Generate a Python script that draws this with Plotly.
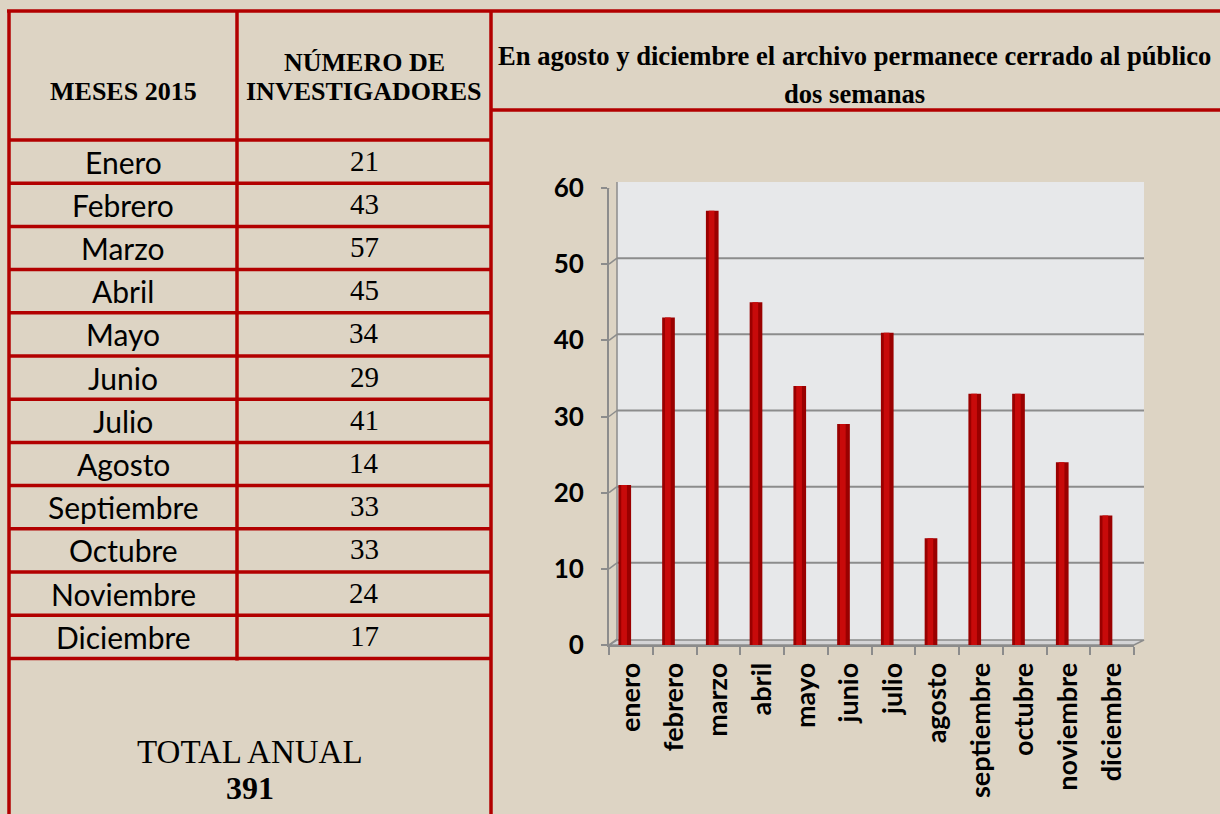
import plotly.graph_objects as go

# ---------------- data ----------------
meses_tabla = ["Enero", "Febrero", "Marzo", "Abril", "Mayo", "Junio", "Julio",
               "Agosto", "Septiembre", "Octubre", "Noviembre", "Diciembre"]
meses_eje = ["enero", "febrero", "marzo", "abril", "mayo", "junio", "julio",
             "agosto", "septiembre", "octubre", "noviembre", "diciembre"]
investigadores = [21, 43, 57, 45, 34, 29, 41, 14, 33, 33, 24, 17]
y_ticks = [0, 10, 20, 30, 40, 50, 60]
titulo_l1 = "En agosto y diciembre el archivo permanece cerrado al público"
titulo_l2 = "dos semanas"
cab_col1 = "MESES 2015"
cab_col2_l1 = "NÚMERO DE"
cab_col2_l2 = "INVESTIGADORES"
total_label = "TOTAL ANUAL"
total_valor = sum(investigadores)

# ---------------- style ----------------
W, H = 1220, 814
BG = "#ddd4c4"
RED = "#b20000"
GRAY = "#8c8c8c"
SERIF = "Liberation Serif"
SANS = "Lato"


def X(px):
    return px / W


def Y(py):
    return 1 - py / H


fig = go.Figure()

# bars: a darker outer cylinder + lighter core for a rounded look
fig.add_trace(go.Bar(x=meses_eje, y=investigadores, width=0.29, offset=-0.285,
                     marker=dict(color="#9a0000", line=dict(width=0)),
                     hoverinfo="x+y", showlegend=False))
fig.add_trace(go.Bar(x=meses_eje, y=investigadores, width=0.13, offset=-0.22,
                     marker=dict(color="#c80a0a", line=dict(width=0)),
                     hoverinfo="skip", showlegend=False))

shapes = []
# ---------- table borders ----------
lw = 3.5
row_top = 140
row_h = 43.2
shapes.append(dict(type="line", xref="paper", yref="paper", x0=X(9), x1=X(9), y0=Y(11), y1=Y(820), line=dict(color=RED, width=lw)))
table_bottom = row_top + row_h * len(meses_tabla)
shapes.append(dict(type="line", xref="paper", yref="paper", x0=X(237), x1=X(237), y0=Y(11), y1=Y(table_bottom + 2), line=dict(color=RED, width=lw)))
shapes.append(dict(type="line", xref="paper", yref="paper", x0=X(491), x1=X(491), y0=Y(11), y1=Y(820), line=dict(color=RED, width=lw)))
shapes.append(dict(type="line", xref="paper", yref="paper", x0=X(7), x1=X(1225), y0=Y(11), y1=Y(11), line=dict(color=RED, width=lw)))
shapes.append(dict(type="line", xref="paper", yref="paper", x0=X(491), x1=X(1225), y0=Y(110), y1=Y(110), line=dict(color=RED, width=lw)))
for k in range(len(meses_tabla) + 1):
    yy = row_top + row_h * k
    shapes.append(dict(type="line", xref="paper", yref="paper", x0=X(9), x1=X(491), y0=Y(yy), y1=Y(yy), line=dict(color=RED, width=lw)))

# ---------- 3D-like chart frame ----------
wall_l, wall_r, wall_t, wall_b = 617, 1144, 182, 640
shapes.append(dict(type="rect", xref="paper", yref="paper", layer="below",
                   x0=X(wall_l), x1=X(wall_r), y0=Y(wall_t), y1=Y(wall_b),
                   fillcolor="#e7e8ea", line=dict(width=0)))
shapes.append(dict(type="path", xref="paper", yref="paper", layer="below",
                   path=f"M {X(609)},{Y(645)} L {X(1134)},{Y(645)} L {X(1144)},{Y(640)} L {X(617)},{Y(640)} Z",
                   fillcolor="#d4d4d6", line=dict(color=GRAY, width=1.5)))
for v in y_ticks:
    if v > 0:
        shapes.append(dict(type="line", xref="paper", yref="y", layer="below",
                           x0=X(wall_l), x1=X(wall_r), ysizemode="pixel", yanchor=v, y0=6, y1=6,
                           line=dict(color=GRAY, width=2)))
    shapes.append(dict(type="line", xref="paper", yref="y", layer="below",
                       x0=X(609), x1=X(wall_l), ysizemode="pixel", yanchor=v, y0=0, y1=6,
                       line=dict(color=GRAY, width=1.5)))
shapes.append(dict(type="line", xref="paper", yref="paper", layer="below",
                   x0=X(wall_l), x1=X(wall_l), y0=Y(wall_t), y1=Y(wall_b), line=dict(color=GRAY, width=1.5)))

annotations = []


def ann(text, x, y, size, family=SERIF, bold=False, **kw):
    annotations.append(dict(text=text, xref="paper", yref="paper", x=X(x), y=Y(y),
                            xanchor="center", yanchor="middle", showarrow=False,
                            font=dict(family=family, size=size, color="#000000",
                                      weight="bold" if bold else "normal"), **kw))


ann(cab_col1, 123, 91, 26, bold=True)
ann(cab_col2_l1, 364, 62, 26, bold=True)
ann(cab_col2_l2, 364, 91, 26, bold=True)
ann(titulo_l1, 855, 56, 26.6, bold=True)
ann(titulo_l2, 855, 94, 26.6, bold=True)

for k, (m, v) in enumerate(zip(meses_tabla, investigadores)):
    yc = row_top + row_h * (k + 0.5)
    ann(m, 123, yc, 30, family=SANS)
    ann(str(v), 364, yc - 1, 29)

ann(total_label, 250, 752, 33)
ann(str(total_valor), 250, 788, 32, bold=True)

fig.update_layout(
    width=W, height=H,
    margin=dict(l=0, r=0, t=0, b=0, pad=0, autoexpand=False),
    paper_bgcolor=BG, plot_bgcolor="rgba(0,0,0,0)",
    barmode="overlay", showlegend=False,
    shapes=shapes, annotations=annotations,
    xaxis=dict(domain=[X(609), X(1134)], type="category", showgrid=False, automargin=False,
               showline=True, linecolor=GRAY, linewidth=2,
               ticks="outside", ticklen=8, tickwidth=2, tickcolor=GRAY,
               tickson="boundaries", tickangle=-90, ticklabelstandoff=5,
               tickfont=dict(family=SANS, size=27, color="#000", weight="bold"),
               fixedrange=True),
    yaxis=dict(domain=[Y(645), Y(188)], range=[0, 60], tickvals=y_ticks, automargin=False,
               showgrid=False, zeroline=False, showline=True, linecolor=GRAY, linewidth=2,
               ticks="outside", ticklen=6, tickwidth=2, tickcolor=GRAY,
               ticklabelstandoff=12,
               tickfont=dict(family=SANS, size=26, color="#000", weight="bold"),
               fixedrange=True),
)

fig.write_html(
    "out.html",
    config={"displayModeBar": False},
    post_script="document.body.style.margin='0';document.body.style.overflow='hidden';document.body.style.background='#ddd4c4';",
)
